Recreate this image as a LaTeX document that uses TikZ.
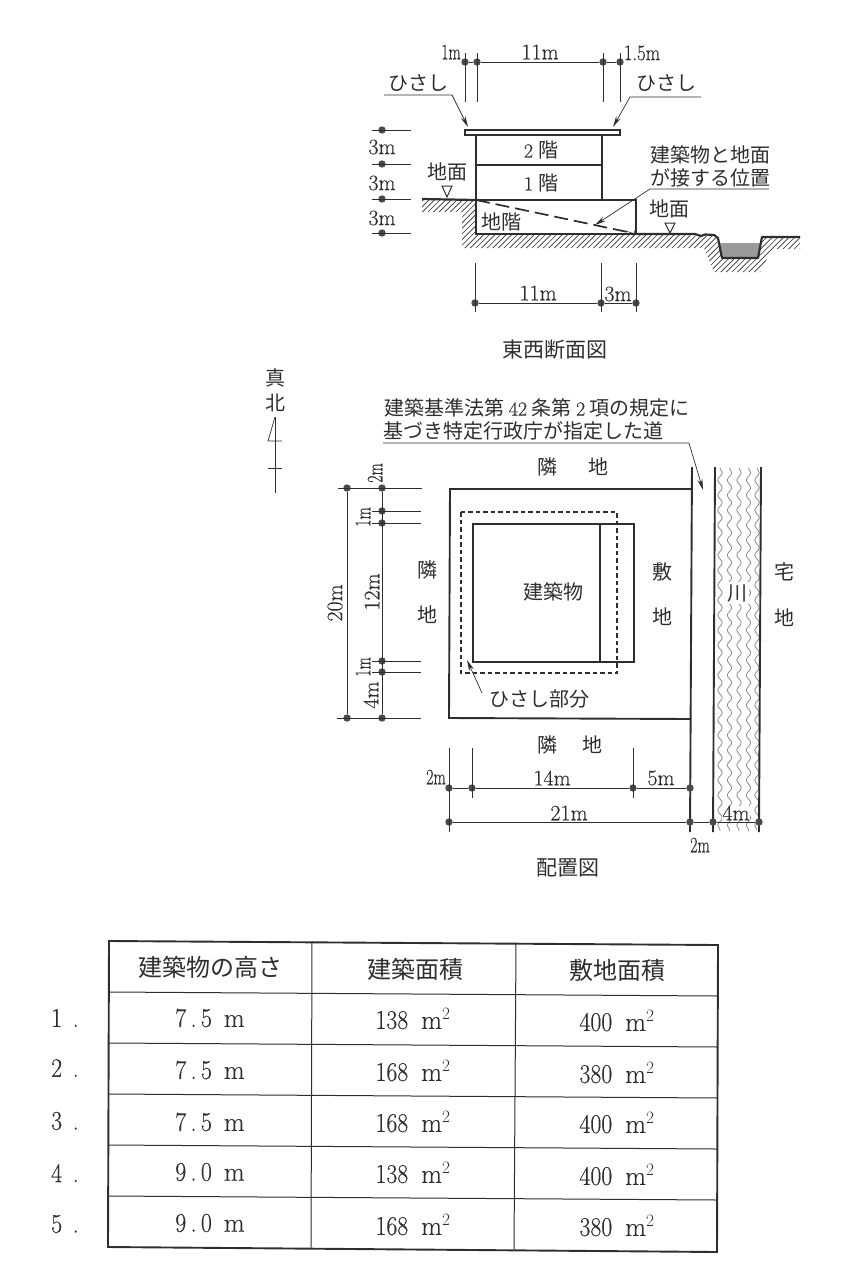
\documentclass[tikz,border=0pt]{standalone}
\usepackage{graphicx}
\usepackage{fontspec}
\usetikzlibrary{arrows.meta,decorations.pathmorphing}
\newfontfamily\jp{Noto Sans CJK JP}
\newfontfamily\latn[FakeBold=0.35]{Latin Modern Roman}
\definecolor{ink}{HTML}{2E2E2E}
\definecolor{dotink}{HTML}{4A4A4A}
\definecolor{waterink}{HTML}{9A9A9A}
\definecolor{waveink}{HTML}{8C8C8C}
\newcommand*\narrow[1]{\scalebox{.72}[1]{#1}}
\newcommand*\tnum[1]{\scalebox{.88}[1]{#1}}
\newcommand*\msq{m$^{2}$}
\tikzset{
  jptext/.style={font=\jp\fontsize{20}{24}\selectfont,text=ink,inner sep=0pt},
  jphead/.style={font=\jp\fontsize{24}{28}\selectfont,text=ink,inner sep=0pt},
  dimtext/.style={font=\latn\fontsize{22}{24}\selectfont,text=ink,inner sep=0pt},
  tabletext/.style={font=\latn\fontsize{27}{29}\selectfont,text=ink,inner sep=0pt},
  dimdot/.style={circle,fill=dotink,inner sep=0pt,minimum size=7.4pt},
  dimline/.style={draw=ink,line width=0.8pt},
  wall/.style={draw=ink,line width=1.9pt},
  leader/.style={draw=ink,line width=0.7pt},
  leadarrow/.style={leader,-{Stealth[length=11pt,width=5pt]}},
  gridline/.style={draw=ink,line width=1pt},
  gridframe/.style={draw=ink,line width=1.9pt},
}
\begin{document}
\begin{tikzpicture}[x=1pt,y=-1pt]
\useasboundingbox (0,0) rectangle (848,1280);
% section
\coordinate (eaveA) at (465,130);
\coordinate (eaveB) at (620,135);
\coordinate (wallLT) at (476,135);
\coordinate (wallRT) at (602,135);
\coordinate (floorL) at (476,165);
\coordinate (floorR) at (602,165);
\coordinate (slabL) at (476,200);
\coordinate (slabM) at (602,200);
\coordinate (slabR) at (636,200);
\coordinate (baseL) at (476,234);
\coordinate (baseR) at (636,234);
\coordinate (groundL) at (422,199);
\begin{scope}
\clip (422,200) -- (476,200) -- (476,234) -- (636,234) -- (716,236) -- (722,258) -- (758,258)
  -- (763,236) -- (800,236) -- (800,249) -- (772,249) -- (760,272) -- (714,272) -- (704,248)
  -- (462,248) -- (462,212) -- (422,212) -- cycle;
\foreach \h in {-60,-54.4,...,430}
  \draw[ink,line width=0.65pt] (380+\h,292) -- (480+\h,192);
\end{scope}
\fill[waterink] (720,243) -- (761,243) -- (758,258) -- (723,258) -- cycle;
\draw[wall,fill=white,line width=1.3pt] (eaveA) rectangle (eaveB);
\draw[wall] (wallLT) -- (baseL) -- (baseR) -- (slabR) -- (slabL);
\draw[wall] (wallRT) -- (slabM) (floorL) -- (floorR);
\draw[wall,line width=2.2pt,line join=round] (groundL) -- (slabL);
\draw[wall,line width=2.2pt,line join=round] (baseR) -- (695,234) -- (701,236) -- (705,234.5) -- (714,235)
  -- (718,238) -- (722,258) -- (758,258) -- (762,237) -- (800,237);
\draw[ink,line width=1.7pt,dash pattern=on 14pt off 6pt] (slabL) -- (630,232.5);
\draw[ink,line width=0.6pt,->] (625,231) -- (baseR);
\foreach \n/\x/\y in {ta/465/62,tb/477/62,tc/603/62,td/620/62,
    la/382/130,lb/382/164,lc/382/199,ld/382/233,
    ba/475/303,bb/601/303,bc/636/303}
  \node[dimdot] (\n) at (\x,\y) {};
\draw[dimline] (ta) -- (tb) -- (tc) -- (td);
\draw[dimline] (ba) -- (bb) -- (bc);
\foreach \n in {ta,tb,tc,td}
  \draw[dimline] (\n |- 0,53) -- (\n |- 0,102);
\foreach \n in {ba,bb,bc}
  \draw[dimline] (\n |- 0,263) -- (\n |- 0,312);
\foreach \n in {la,lb,lc,ld}
  \draw[dimline] (372,0 |- \n) -- (411,0 |- \n);
\node[dimtext] (dimA) at (451,52) {\narrow{1m}};
\node[dimtext] (dimB) at (540,52) {11m};
\node[dimtext] (dimC) at (642,53) {\scalebox{.85}[1]{1.5m}};
\node[dimtext] (dimD) at (382,147) {3m};
\node[dimtext] (dimE) at (382,183) {3m};
\node[dimtext] (dimF) at (382,218) {3m};
\node[dimtext] (dimG) at (538,293) {11m};
\node[dimtext] (dimH) at (618,294) {3m};
\node[jptext] (eaveL) at (418,83) {ひさし};
\node[jptext] (eaveR) at (666,83) {ひさし};
\node[jptext] (floorTwo) at (541,150) {{\latn 2}\hspace{5pt}階};
\node[jptext] (floorOne) at (541,183) {{\latn 1}\hspace{5pt}階};
\node[jptext] (floorBase) at (501,222) {地階};
\node[jptext] (gndL) at (447,172) {地面};
\node[jptext] (gndR) at (669,209) {地面};
\node[jptext] (contactA) at (710,155) {建築物と地面};
\node[jptext] (contactB) at (710,178) {が接する位置};
\node[jptext,font=\jp\fontsize{21}{24}\selectfont] (sectionName) at (555,350) {東西断面図};
\coordinate (eaveLa) at (384,95);
\coordinate (eaveLb) at (452,95);
\coordinate (eaveRa) at (701,97);
\coordinate (eaveRb) at (630,97);
\coordinate (contactC) at (769,189);
\coordinate (contactD) at (650,189);
\coordinate (contactE) at (595,225);
\draw[leadarrow] (eaveLa) -- (eaveLb) -- (468,127);
\draw[leadarrow] (eaveRa) -- (eaveRb) -- (613,127);
\draw[leadarrow] (contactC) -- (contactD) -- (contactE);
\draw[leader,line width=1pt] (442,186) -- (452,186) -- (447,197) -- cycle;
\draw[leader,line width=1pt] (665,223) -- (675,223) -- (670,233) -- cycle;
% north mark
\node[jptext] (northA) at (275,378) {真};
\node[jptext] (northB) at (275,403) {北};
\coordinate (needleT) at (275,417);
\coordinate (needleB) at (275,493);
\draw[leader] (needleT) -- (needleB);
\draw[leader] (needleT) -- (268,441) -- (282,441);
\draw[leader] (268,468) -- (282,468);
% plan
\coordinate (siteA) at (450,489);
\coordinate (siteB) at (692,489);
\coordinate (siteC) at (691,719);
\coordinate (siteD) at (449,718);
\foreach \x in {720,729.5,739,748.5,757}
  \draw[waveink,line width=0.8pt,decorate,decoration={snake,amplitude=2.2pt,segment length=15pt}] (\x,468) -- (\x,831);
\draw[wall] (692,467) -- (690,832);
\draw[wall] (715,467) -- (713,832);
\draw[wall] (761,467) -- (759,832);
\draw[wall] (siteB) -- (siteA) -- (siteD) -- (siteC);
\draw[wall] (473,524) rectangle (634,662);
\draw[wall] (600,524) -- (600,662);
\draw[ink,line width=1.7pt,dash pattern=on 4.5pt off 3pt] (461,512) rectangle (617,673);
\foreach \n/\x/\y in {pa/347/488,pb/382/488,pc/382/511,pd/382/523,pe/382/661,pf/382/672,pg/382/718,ph/347/718,
    qa/449/788,qb/472/788,qc/633/788,qd/690/788,
    ra/449/822,rb/690/822,rc/713/822,rd/759/822}
  \node[dimdot] (\n) at (\x,\y) {};
\draw[dimline] (pa) -- (ph) (pb) -- (pg);
\draw[dimline] (338,0 |- pa) -- (422,0 |- pa);
\draw[dimline] (337,0 |- ph) -- (421,0 |- ph);
\foreach \n in {pc,pd,pe,pf}
  \draw[dimline] (372,0 |- \n) -- (421,0 |- \n);
\draw[dimline] (qa) -- (qb) -- (qc) -- (qd);
\draw[dimline] (ra) -- (rb) -- (rc) -- (rd);
\draw[dimline] (qa |- 0,748) -- (qa |- 0,832);
\draw[dimline] (qb |- 0,748) -- (qb |- 0,798);
\draw[dimline] (qc |- 0,748) -- (qc |- 0,798);
\node[dimtext,rotate=90] (dimJ) at (375,473) {\narrow{2m}};
\node[dimtext,rotate=90] (dimK) at (363,517) {\narrow{1m}};
\node[dimtext,rotate=90] (dimL) at (372,592) {12m};
\node[dimtext,rotate=90] (dimM) at (335,603) {20m};
\node[dimtext,rotate=90] (dimN) at (363,667) {\narrow{1m}};
\node[dimtext,rotate=90] (dimO) at (371,695) {4m};
\node[dimtext] (dimP) at (436,777) {\narrow{2m}};
\node[dimtext] (dimQ) at (552,778) {14m};
\node[dimtext] (dimR) at (661,778) {5m};
\node[dimtext] (dimS) at (569,813) {21m};
\node[dimtext,fill=white] (dimT) at (736,813) {4m};
\node[dimtext] (dimU) at (700,845) {\narrow{2m}};
\node[jptext] (lawA) at (537,408) {建築基準法第 {\latn 42} 条第 {\latn 2} 項の規定に};
\node[jptext,anchor=west] (lawB) at (383,431) {基づき特定行政庁が指定した道};
\coordinate (lawC) at (383,443);
\coordinate (lawD) at (689,443);
\coordinate (lawE) at (703,490);
\draw[leadarrow] (lawC) -- (lawD) -- (lawE);
\foreach \n/\t/\x/\y in {tn/隣/547/467,to/地/598/467,ln/隣/427/570,lo/地/427/615,
    sn/敷/662/572,so/地/662/617,hn/宅/784/572,ho/地/784/618,bn/隣/547/745,bo/地/592/745}
  \node[jptext] (\n) at (\x,\y) {\t};
\node[jptext] (buildName) at (553,592) {建築物};
\node[jptext,fill=white,inner sep=2pt] (riverName) at (737,593) {川};
\node[jptext] (eaveName) at (539,699) {ひさし部分};
\coordinate (eaveFrom) at (482,693);
\coordinate (eaveTo) at (467,660);
\draw[leadarrow] (eaveFrom) -- (eaveTo);
\node[jptext,font=\jp\fontsize{21}{24}\selectfont] (planName) at (568,868) {配置図};
% table
\foreach \n/\xa/\xb/\xc/\xd/\y/\yr in {a/109/312/516/718/941/945,b/109/312/516/718/992/996,c/109/312/515/718/1043/1047,
    d/109/312/515/718/1094/1098,e/108/311/515/717/1145/1149,f/108/311/515/717/1196/1200,g/108/311/514/717/1247/1252}{
  \coordinate (\n L) at (\xa,\y);
  \coordinate (\n A) at (\xb,\y+0.7);
  \coordinate (\n B) at (\xc,\y+2.4);
  \coordinate (\n R) at (\xd,\yr);
}
\foreach \n in {b,c,d,e,f}
  \draw[gridline] (\n L) -- (\n R);
\draw[gridline] (aA) -- (gA) (aB) -- (gB);
\draw[gridframe] (aL) -- (aR) -- (gR) -- (gL) -- cycle;
\node[jphead] (headA) at (210,967) {建築物の高さ};
\node[jphead] (headB) at (415,969) {建築面積};
\node[jphead] (headC) at (617,970) {敷地面積};
\foreach \r/\hga/\hgb/\ba/\sa/\yl/\ya/\yb/\yc in {1/7/5/138/400/1018/1018/1019/1021,
    2/7/5/168/380/1068/1070/1071/1073,
    3/7/5/168/400/1121/1122/1122/1123,
    4/9/0/138/400/1173/1172/1173/1175,
    5/9/0/168/380/1224/1223/1225/1226}{
  \node[tabletext,anchor=west] (rowlab\r) at (51,\yl) {\tnum{\r\hspace{.45em}.}};
  \node[tabletext] (height\r) at (210,\ya) {\tnum{\hga\hspace{5pt}.\hspace{5pt}\hgb}\hspace{12pt}m};
  \node[tabletext] (build\r) at (413,\yb) {\tnum{\ba}\hspace{13pt}\msq};
  \node[tabletext] (site\r) at (617,\yc) {\tnum{\sa}\hspace{13pt}\msq};
}
\end{tikzpicture}
\end{document}
